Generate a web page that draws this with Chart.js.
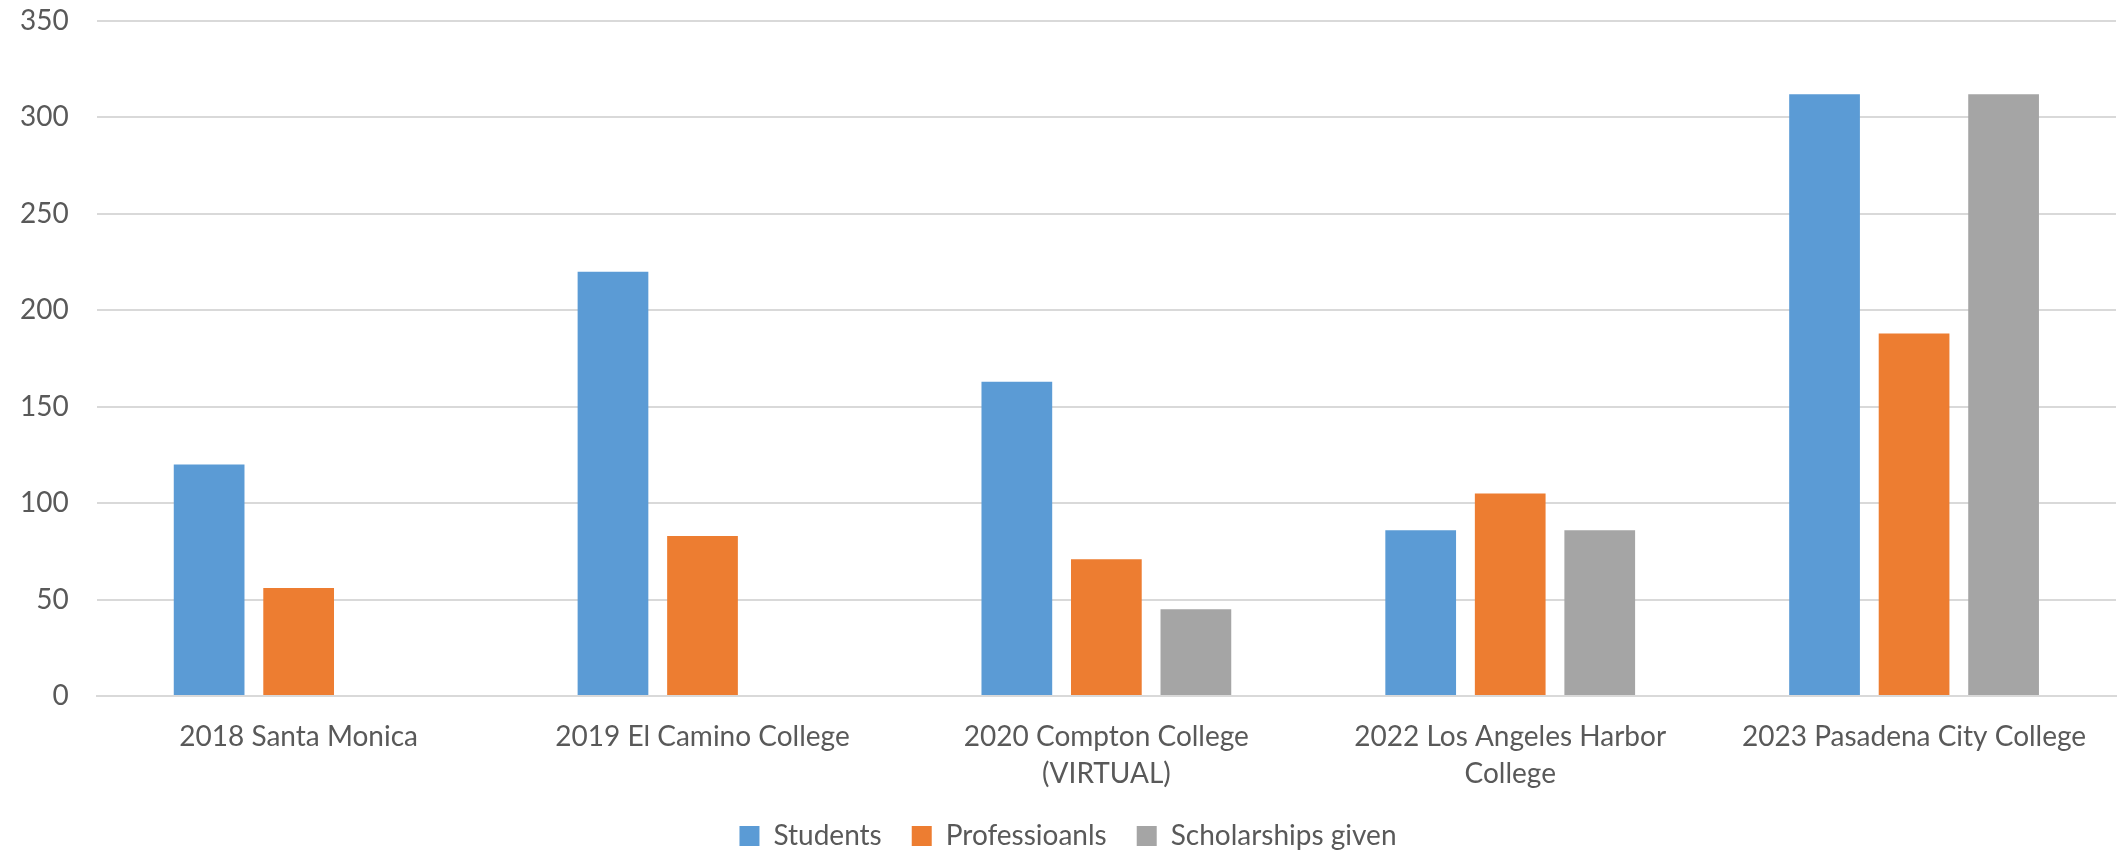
<!DOCTYPE html>
<html>
<head>
<meta charset="utf-8">
<title>Students / Professionals / Scholarships</title>
<script src="https://cdn.jsdelivr.net/npm/chart.js@4/dist/chart.umd.min.js"></script>
<style>
  html, body { margin: 0; padding: 0; background: #ffffff; }
  #wrap { width: 2121px; height: 854px; }
</style>
</head>
<body>
<div id="wrap"><canvas id="chart"></canvas></div>
<script>
// 📌 Dati
const categories = [
  "2018 Santa Monica",
  "2019 El Camino College",
  ["2020 Compton College", "(VIRTUAL)"],
  ["2022 Los Angeles Harbor", "College"],
  "2023 Pasadena City College",
];
const students = [120, 220, 163, 86, 312];
const professionals = [56, 83, 71, 105, 188];
const scholarships = [null, null, 45, 86, 312];
const yTicks = [0, 50, 100, 150, 200, 250, 300, 350];

const textColor = "#595959";
const gridColor = "#d9d9d9";
const font = { family: "Lato, 'Open Sans', sans-serif", size: 28 };

new Chart(document.getElementById("chart"), {
  type: "bar",
  data: {
    labels: categories,
    datasets: [
      { label: "Students", data: students, backgroundColor: "#5B9BD5" },
      { label: "Professioanls", data: professionals, backgroundColor: "#ED7D31" },
      { label: "Scholarships given", data: scholarships, backgroundColor: "#A5A5A5" },
    ],
  },
  options: {
    responsive: true,
    maintainAspectRatio: false,
    devicePixelRatio: 1,
    animation: false,
    datasets: { bar: { categoryPercentage: 0.665, barPercentage: 0.79 } },
    layout: { padding: { top: 0, left: 20, right: 5, bottom: -6 } },
    plugins: {
      tooltip: { enabled: false },
      legend: {
        position: "bottom",
        labels: {
          color: textColor,
          font: font,
          boxWidth: 20,
          boxHeight: 20,
          padding: 30,
        },
      },
    },
    scales: {
      x: {
        // tick marks invisibili: servono solo a distanziare le etichette
        grid: { display: true, drawOnChartArea: false, drawTicks: true, tickLength: 22, tickColor: "transparent" },
        border: { color: gridColor, width: 2 },
        ticks: {
          color: textColor,
          font: { ...font, lineHeight: 1.32 },
          padding: 0,
          maxRotation: 0,
          autoSkip: false,
        },
      },
      y: {
        min: yTicks[0],
        max: yTicks[yTicks.length - 1],
        grid: { color: gridColor, lineWidth: 2, drawTicks: true, tickLength: 28, tickColor: "transparent" },
        border: { display: false },
        afterBuildTicks: (axis) => {
          axis.ticks = yTicks.map((v) => ({ value: v }));
        },
        ticks: {
          color: textColor,
          font: { ...font, lineHeight: 1.5 },
          padding: 0,
        },
      },
    },
  },
});
</script>
</body>
</html>
